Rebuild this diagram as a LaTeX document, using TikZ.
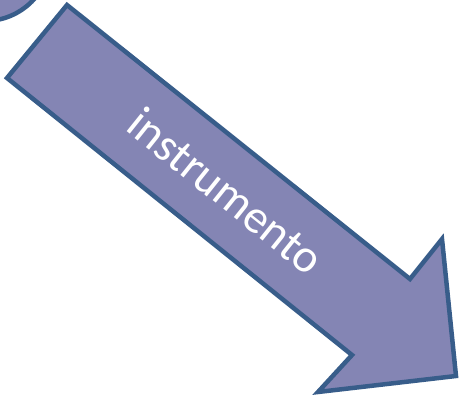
\documentclass[tikz,border=0pt]{standalone}
\usepackage{fontspec}
\setmainfont{Carlito}
\usepackage{tikz}
\usetikzlibrary{calc}
\definecolor{arrowfill}{RGB}{132,133,180}
\definecolor{arrowline}{RGB}{56,93,138}
\tikzset{
  shapeline/.style={draw=arrowline, fill=arrowfill, line width=4.5pt, line join=miter},
  arrowtext/.style={text=white, font=\fontsize{47}{52}\selectfont, inner sep=0pt}
}

\begin{document}
\begin{tikzpicture}[x=1pt, y=-1pt]
        \useasboundingbox (0, 0) rectangle (460, 395);
        \begin{scope}
        \clip (0, 0) rectangle (460, 395);
        \draw[shapeline] (-15, -45) circle (66);
        \end{scope}
        \coordinate (T1) at (67, 5);
        \coordinate (T2) at (7, 78);
        \coordinate (N1) at (410, 279);
        \coordinate (H1) at (442, 239);
        \coordinate (P) at (456, 376);
        \coordinate (H2) at (318, 392);
        \coordinate (N2) at (352, 355);
        \draw[shapeline] (T1) -- (N1) -- (H1) -- (P) -- (H2) -- (N2) -- (T2) -- cycle;
        \node[arrowtext, rotate=-38.7] (lbl) at (226, 191) {instrumento};
    \end{tikzpicture}
\end{document}
